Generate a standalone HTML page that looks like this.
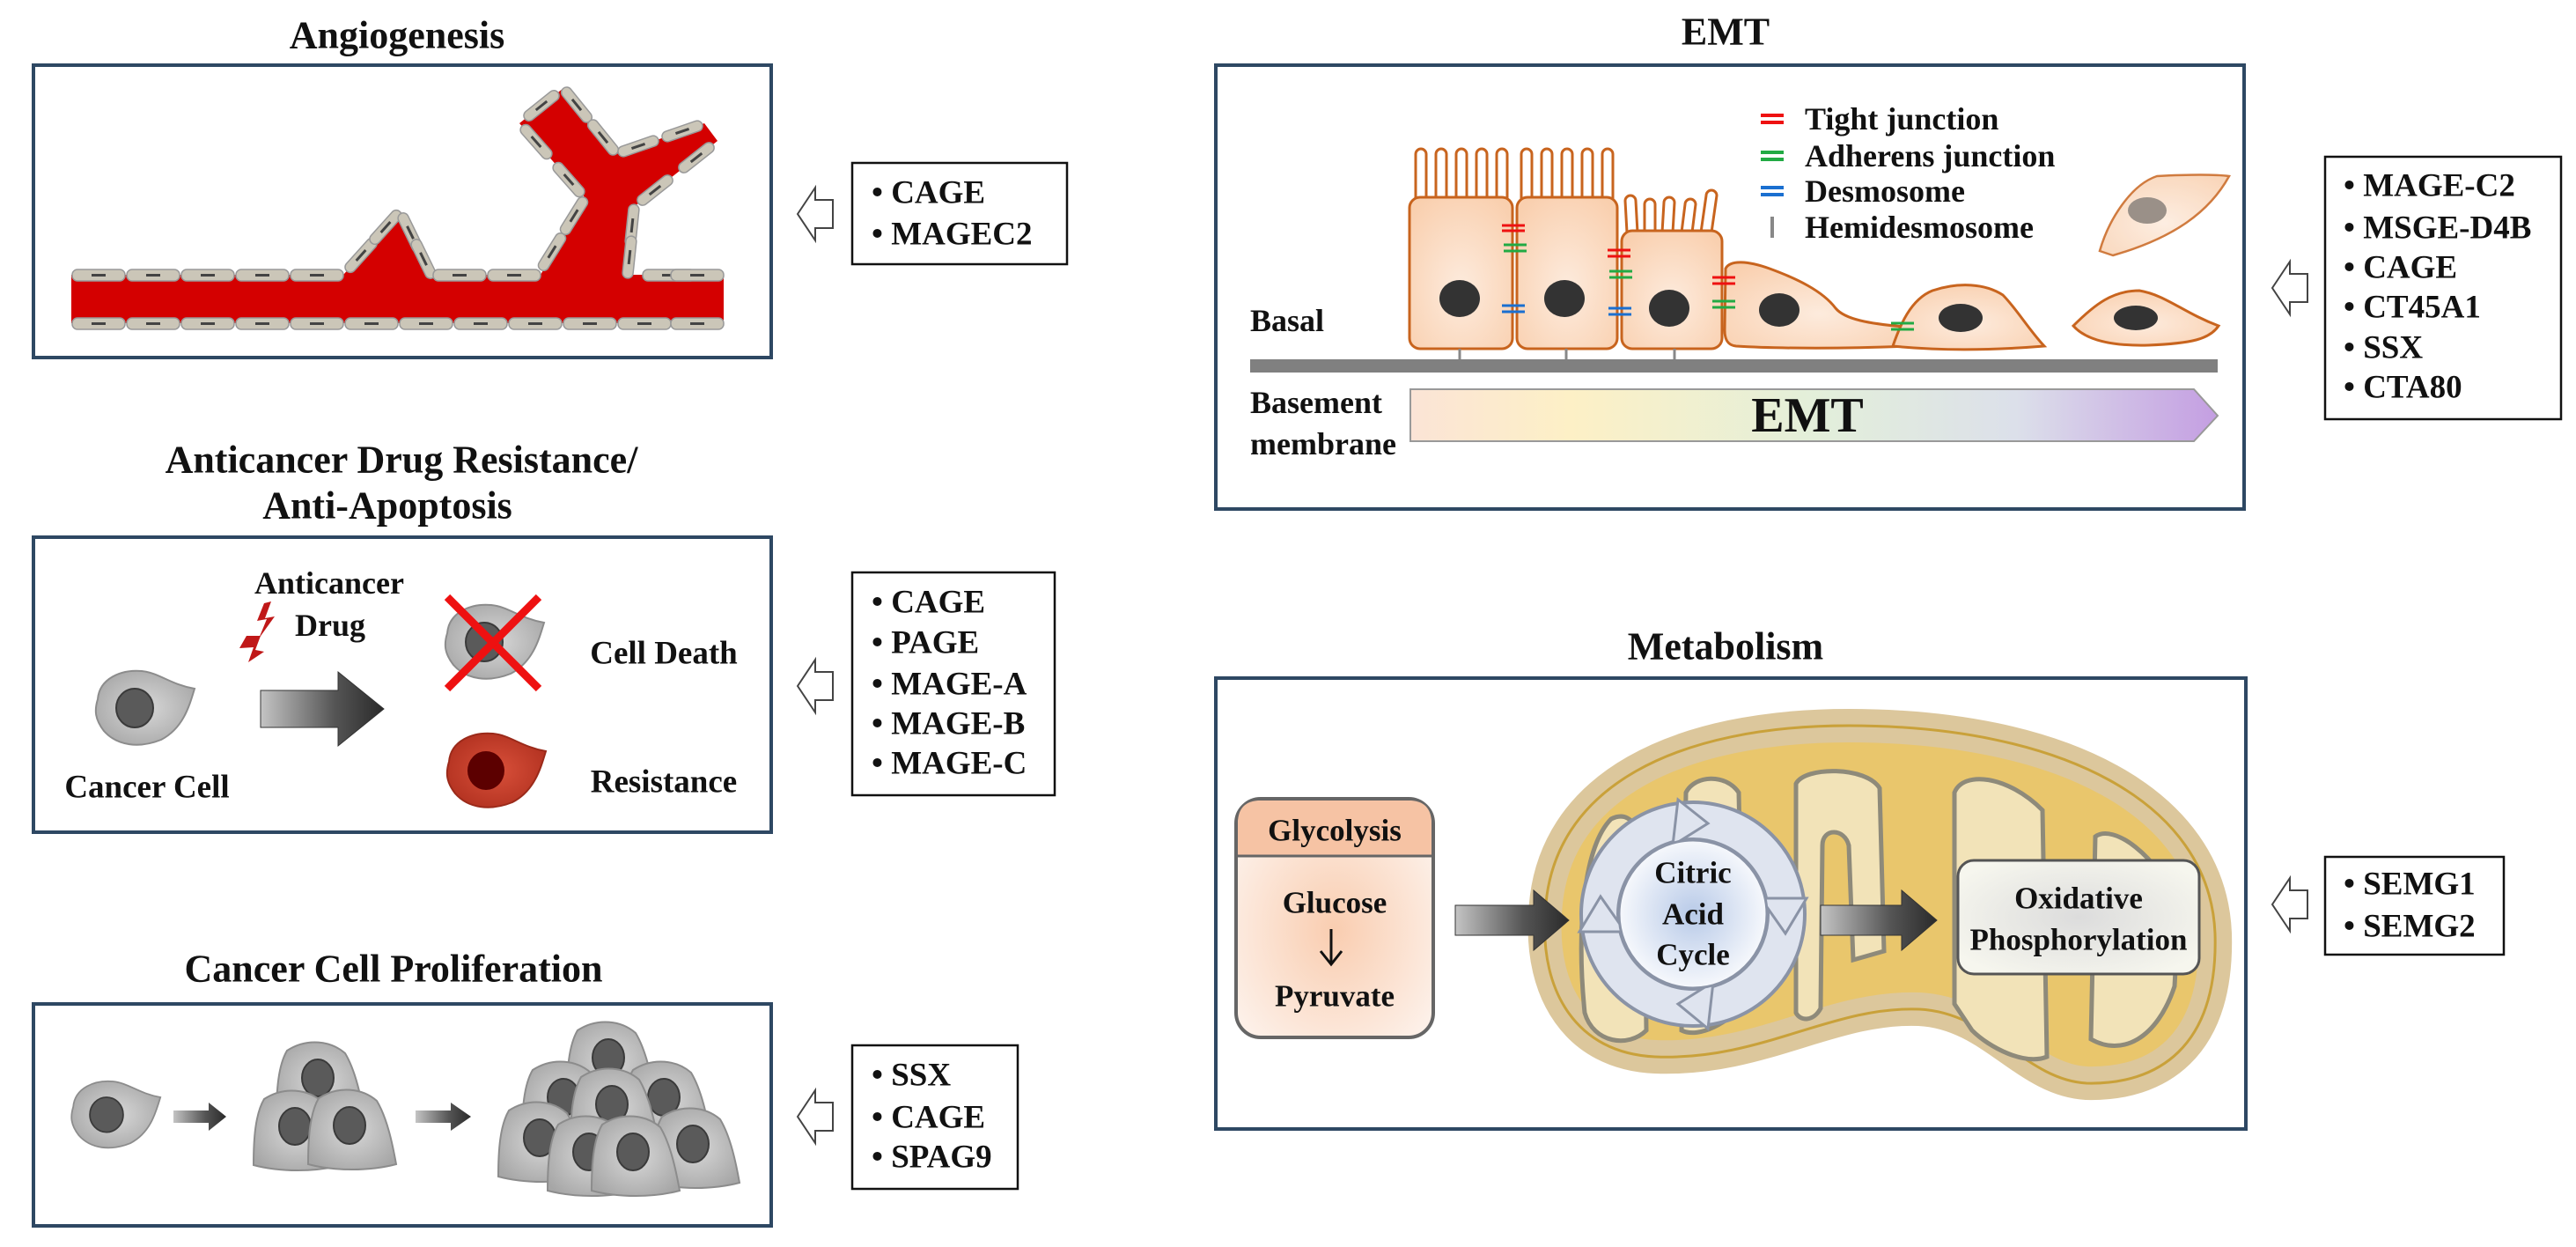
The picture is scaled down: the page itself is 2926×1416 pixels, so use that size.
<!DOCTYPE html>
<html><head><meta charset="utf-8"><style>
html,body{margin:0;padding:0;background:#fff;}
svg{display:block;}
text{font-family:"Liberation Serif",serif;font-weight:bold;fill:#111;}
</style></head><body>
<svg width="2926" height="1416" viewBox="0 0 2926 1416" xmlns="http://www.w3.org/2000/svg">
<defs>
<linearGradient id="ag" x1="0" x2="1" y1="0" y2="0"><stop offset="0" stop-color="#c4c4c4"/><stop offset="0.6" stop-color="#555"/><stop offset="1" stop-color="#2a2a2a"/></linearGradient>
<radialGradient id="gc" cx="0.5" cy="0.5" r="0.6"><stop offset="0" stop-color="#d8d8d8"/><stop offset="1" stop-color="#a6a6a6"/></radialGradient>
<radialGradient id="rc" cx="0.5" cy="0.5" r="0.6"><stop offset="0" stop-color="#d9503a"/><stop offset="1" stop-color="#b0301f"/></radialGradient>
<radialGradient id="ec" cx="0.5" cy="0.6" r="0.7"><stop offset="0" stop-color="#fdebdd"/><stop offset="1" stop-color="#f9cfae"/></radialGradient>
<linearGradient id="emtg" x1="0" x2="1"><stop offset="0" stop-color="#fbe4d6"/><stop offset="0.2" stop-color="#fdf0c6"/><stop offset="0.5" stop-color="#e3efda"/><stop offset="0.75" stop-color="#dce0ea"/><stop offset="1" stop-color="#c49ee2"/></linearGradient>
<radialGradient id="glg" cx="0.5" cy="0.55" r="0.6"><stop offset="0" stop-color="#f9cdb0"/><stop offset="1" stop-color="#fdf0e8"/></radialGradient>
<radialGradient id="cyc" cx="0.5" cy="0.5" r="0.5"><stop offset="0" stop-color="#b8cae8"/><stop offset="1" stop-color="#f6f8fc"/></radialGradient>
<radialGradient id="oxg" cx="0.5" cy="0.5" r="0.6"><stop offset="0" stop-color="#dcdcdc"/><stop offset="1" stop-color="#f6f6ee"/></radialGradient>
<g id="gcell"><path d="M-52,-8 C-50,-32 -25,-42 -2,-40 C18,-38 30,-25 58,-20 C52,0 45,25 20,38 C-5,48 -30,45 -45,28 C-55,15 -56,5 -52,-8Z" fill="url(#gc)" stroke="#8c8c8c" stroke-width="2"/><ellipse cx="-10" cy="2" rx="21" ry="22" fill="#5a5a5a" stroke="#3a3a3a" stroke-width="2"/></g>
<g id="pcell"><path d="M-38,-35 C-15,-50 12,-46 28,-32 C40,-12 46,18 50,40 C20,48 -20,48 -50,40 C-50,10 -48,-18 -38,-35Z" fill="url(#gc)" stroke="#8c8c8c" stroke-width="2"/><ellipse cx="-3" cy="-4" rx="18" ry="21" fill="#5a5a5a" stroke="#3a3a3a" stroke-width="2"/></g>
<g id="hol"><polygon points="0,30 20,0 20,14 40,14 40,46 20,46 20,60" fill="#fff" stroke="#444" stroke-width="2"/></g>
<g id="vc"><rect x="0" y="0" width="60" height="13" rx="6" fill="#cbc6b8" stroke="#999" stroke-width="1.5"/><rect x="22" y="5" width="16" height="3" fill="#444"/></g>
<g id="bc"><rect x="-24" y="-6" width="48" height="12" rx="6" fill="#cbc6b8" stroke="#999" stroke-width="1.5"/><rect x="-8" y="-1.5" width="16" height="3" fill="#444"/></g>
</defs>

<!-- ===== Angiogenesis ===== -->
<text x="451" y="40" font-size="44" text-anchor="middle" dominant-baseline="central">Angiogenesis</text>
<rect x="38" y="74" width="838" height="332" fill="#fff" stroke="#2e4863" stroke-width="4"/>
<rect x="81" y="312" width="741" height="55" fill="#d40000"/>
<path d="M614,312 L665,225 L590,140 L640,100 L700,175 L800,140 L815,160 L720,235 L713,312 Z" fill="#d40000"/>
<path d="M390,312 L455,240 L490,312 Z" fill="#d40000"/>
<use href="#bc" transform="translate(627,286) rotate(-58)"/>
<use href="#bc" transform="translate(652,245) rotate(-58)"/>
<use href="#bc" transform="translate(646,204) rotate(48.6)"/>
<use href="#bc" transform="translate(609,161) rotate(48.6)"/>
<use href="#bc" transform="translate(615,120) rotate(-38.7)"/>
<use href="#bc" transform="translate(655,119) rotate(51)"/>
<use href="#bc" transform="translate(685,156) rotate(51)"/>
<use href="#bc" transform="translate(725,166) rotate(-19)"/>
<use href="#bc" transform="translate(775,149) rotate(-19)"/>
<use href="#bc" transform="translate(791,179) rotate(-38.3)"/>
<use href="#bc" transform="translate(744,216) rotate(-38.3)"/>
<use href="#bc" transform="translate(718,256) rotate(-84)"/>
<use href="#bc" transform="translate(715,292) rotate(-84)"/>
<use href="#bc" transform="translate(410,290) rotate(-48)"/>
<use href="#bc" transform="translate(438,258) rotate(-48)"/>
<use href="#bc" transform="translate(466,264) rotate(64)"/>
<use href="#bc" transform="translate(481,294) rotate(64)"/>
<g>
<use href="#vc" x="82" y="306"/><use href="#vc" x="144" y="306"/><use href="#vc" x="206" y="306"/><use href="#vc" x="268" y="306"/><use href="#vc" x="330" y="306"/><use href="#vc" x="492" y="306"/><use href="#vc" x="554" y="306"/><use href="#vc" x="730" y="306"/><use href="#vc" x="762" y="306"/>
<use href="#vc" x="82" y="361"/><use href="#vc" x="144" y="361"/><use href="#vc" x="206" y="361"/><use href="#vc" x="268" y="361"/><use href="#vc" x="330" y="361"/><use href="#vc" x="392" y="361"/><use href="#vc" x="454" y="361"/><use href="#vc" x="516" y="361"/><use href="#vc" x="578" y="361"/><use href="#vc" x="640" y="361"/><use href="#vc" x="702" y="361"/><use href="#vc" x="762" y="361"/>
</g>
<use href="#hol" x="906" y="213"/>
<rect x="968" y="185" width="244" height="115" fill="#fff" stroke="#111" stroke-width="2.5"/>
<text x="990" y="219" font-size="37" dominant-baseline="central">• CAGE</text>
<text x="990" y="266" font-size="37" dominant-baseline="central">• MAGEC2</text>

<!-- ===== Anticancer ===== -->
<text x="456" y="522" font-size="44" text-anchor="middle" dominant-baseline="central">Anticancer Drug Resistance/</text>
<text x="440" y="574" font-size="44" text-anchor="middle" dominant-baseline="central">Anti-Apoptosis</text>
<rect x="38" y="610" width="838" height="335" fill="#fff" stroke="#2e4863" stroke-width="4"/>
<text x="374" y="662" font-size="36" text-anchor="middle" dominant-baseline="central">Anticancer</text>
<text x="375" y="710" font-size="36" text-anchor="middle" dominant-baseline="central">Drug</text>
<path d="M300,685 L292,705 L303,703 L294,725 L312,700 L301,702 L308,683Z" fill="#c01818"/>
<path d="M280,722 L272,736 L288,735 L282,752 L300,740 L290,738 L296,722Z" fill="#c01818"/>
<use href="#gcell" x="163" y="802"/>
<text x="167" y="894" font-size="37" text-anchor="middle" dominant-baseline="central">Cancer Cell</text>
<polygon points="296,784 384,784 384,763 436,805 384,847 384,826 296,826" fill="url(#ag)" stroke="#333" stroke-width="1"/>
<use href="#gcell" x="560" y="727"/>
<line x1="508" y1="678" x2="612" y2="782" stroke="#ee1111" stroke-width="9"/>
<line x1="612" y1="678" x2="508" y2="782" stroke="#ee1111" stroke-width="9"/>
<text x="754" y="742" font-size="37" text-anchor="middle" dominant-baseline="central">Cell Death</text>
<g transform="translate(562,873)"><path d="M-52,-8 C-50,-32 -25,-42 -2,-40 C18,-38 30,-25 58,-20 C52,0 45,25 20,38 C-5,48 -30,45 -45,28 C-55,15 -56,5 -52,-8Z" fill="url(#rc)" stroke="#9b2a1a" stroke-width="2"/><ellipse cx="-10" cy="2" rx="21" ry="22" fill="#5c0000"/></g>
<text x="754" y="888" font-size="37" text-anchor="middle" dominant-baseline="central">Resistance</text>
<use href="#hol" x="906" y="749"/>
<rect x="968" y="650" width="230" height="253" fill="#fff" stroke="#111" stroke-width="2.5"/>
<text x="990" y="684" font-size="37" dominant-baseline="central">• CAGE</text>
<text x="990" y="730" font-size="37" dominant-baseline="central">• PAGE</text>
<text x="990" y="777" font-size="37" dominant-baseline="central">• MAGE-A</text>
<text x="990" y="822" font-size="37" dominant-baseline="central">• MAGE-B</text>
<text x="990" y="867" font-size="37" dominant-baseline="central">• MAGE-C</text>

<!-- ===== Proliferation ===== -->
<text x="447" y="1100" font-size="44" text-anchor="middle" dominant-baseline="central">Cancer Cell Proliferation</text>
<rect x="38" y="1140" width="838" height="252" fill="#fff" stroke="#2e4863" stroke-width="4"/>
<g transform="translate(130 1264) scale(0.9)"><use href="#gcell"/></g>
<polygon points="197,1261 237,1261 237,1252 257,1268 237,1284 237,1275 197,1275" fill="url(#ag)"/>
<polygon points="472,1261 512,1261 512,1252 535,1268 512,1284 512,1275 472,1275" fill="url(#ag)"/>
<use href="#pcell" x="364" y="1228"/>
<use href="#pcell" x="338" y="1283"/>
<use href="#pcell" x="400" y="1282"/>
<use href="#pcell" x="694" y="1205"/>
<use href="#pcell" x="643" y="1250"/>
<use href="#pcell" x="757" y="1250"/>
<use href="#pcell" x="698" y="1258"/>
<use href="#pcell" x="616" y="1296"/>
<use href="#pcell" x="790" y="1303"/>
<use href="#pcell" x="672" y="1312"/>
<use href="#pcell" x="722" y="1312"/>
<use href="#hol" x="906" y="1238"/>
<rect x="968" y="1187" width="188" height="163" fill="#fff" stroke="#111" stroke-width="2.5"/>
<text x="990" y="1221" font-size="37" dominant-baseline="central">• SSX</text>
<text x="990" y="1269" font-size="37" dominant-baseline="central">• CAGE</text>
<text x="990" y="1314" font-size="37" dominant-baseline="central">• SPAG9</text>

<!-- ===== EMT ===== -->
<text x="1960" y="36" font-size="44" text-anchor="middle" dominant-baseline="central">EMT</text>
<rect x="1381" y="74" width="1168" height="504" fill="#fff" stroke="#2e4863" stroke-width="4"/>
<g fill="none" stroke="#c8641e" stroke-width="3">
<path d="M1608,226 L1608,175 a6,6 0 0 1 12,0 L1620,226 M1631,226 L1631,175 a6,6 0 0 1 12,0 L1643,226 M1654,226 L1654,175 a6,6 0 0 1 12,0 L1666,226 M1677,226 L1677,175 a6,6 0 0 1 12,0 L1689,226 M1700,226 L1700,175 a6,6 0 0 1 12,0 L1712,226"/>
<path d="M1728,226 L1728,175 a6,6 0 0 1 12,0 L1740,226 M1751,226 L1751,175 a6,6 0 0 1 12,0 L1763,226 M1774,226 L1774,175 a6,6 0 0 1 12,0 L1786,226 M1797,226 L1797,175 a6,6 0 0 1 12,0 L1809,226 M1820,226 L1820,175 a6,6 0 0 1 12,0 L1832,226"/>
<path d="M1848,264 L1846,228 a6,6 0 0 1 12,0 L1860,264 M1868,264 L1868,232 a6,6 0 0 1 12,0 L1880,264 M1888,264 L1890,230 a6,6 0 0 1 12,0 L1900,264 M1910,264 L1914,232 a6,6 0 0 1 12,0 L1922,264 M1932,264 L1938,222 a6,6 0 0 1 12,0 L1944,264"/>
</g>
<g fill="url(#ec)" stroke="#c8641e" stroke-width="3">
<rect x="1601" y="224" width="117" height="172" rx="12"/>
<rect x="1723" y="224" width="114" height="172" rx="12"/>
<rect x="1842" y="262" width="114" height="134" rx="12"/>
<path d="M1960,305 C1965,295 1985,296 2010,305 C2040,316 2070,330 2085,350 C2095,362 2120,368 2175,372 L2170,393 C2100,396 2020,396 1972,393 C1962,392 1959,385 1959,375 Z"/>
<path d="M2150,393 C2158,370 2170,340 2195,330 C2225,320 2255,322 2275,335 C2290,350 2305,375 2322,393 C2260,398 2200,398 2150,393Z"/>
<path d="M2355,370 C2380,345 2400,330 2430,330 C2460,335 2480,355 2520,370 C2510,385 2490,390 2440,392 C2400,393 2370,387 2355,370Z"/>
<path d="M2385,285 C2395,250 2420,210 2450,200 C2490,198 2515,198 2532,200 C2510,240 2470,270 2400,290 Z" stroke-width="2.5" opacity="0.85"/>
</g>
<g fill="#333">
<ellipse cx="1658" cy="339" rx="23" ry="21"/><ellipse cx="1777" cy="339" rx="23" ry="21"/><ellipse cx="1896" cy="350" rx="23" ry="21"/><ellipse cx="2021" cy="352" rx="23" ry="19"/><ellipse cx="2227" cy="361" rx="25" ry="16"/><ellipse cx="2426" cy="361" rx="25" ry="14"/>
</g>
<ellipse cx="2439" cy="239" rx="22" ry="15" fill="#9a9088"/>
<g stroke-width="3">
<line x1="1706" y1="256" x2="1732" y2="256" stroke="#ee1111"/><line x1="1706" y1="262" x2="1732" y2="262" stroke="#ee1111"/>
<line x1="1708" y1="278" x2="1734" y2="278" stroke="#22aa44"/><line x1="1708" y1="285" x2="1734" y2="285" stroke="#22aa44"/>
<line x1="1706" y1="347" x2="1732" y2="347" stroke="#1a6fd0"/><line x1="1706" y1="354" x2="1732" y2="354" stroke="#1a6fd0"/>
<line x1="1826" y1="284" x2="1852" y2="284" stroke="#ee1111"/><line x1="1826" y1="291" x2="1852" y2="291" stroke="#ee1111"/>
<line x1="1828" y1="308" x2="1854" y2="308" stroke="#22aa44"/><line x1="1828" y1="315" x2="1854" y2="315" stroke="#22aa44"/>
<line x1="1827" y1="350" x2="1853" y2="350" stroke="#1a6fd0"/><line x1="1827" y1="357" x2="1853" y2="357" stroke="#1a6fd0"/>
<line x1="1945" y1="315" x2="1971" y2="315" stroke="#ee1111"/><line x1="1945" y1="322" x2="1971" y2="322" stroke="#ee1111"/>
<line x1="1945" y1="342" x2="1971" y2="342" stroke="#22aa44"/><line x1="1945" y1="349" x2="1971" y2="349" stroke="#22aa44"/>
<line x1="2148" y1="367" x2="2174" y2="367" stroke="#22aa44"/><line x1="2148" y1="374" x2="2174" y2="374" stroke="#22aa44"/>
</g>
<g stroke="#888" stroke-width="3"><line x1="1658" y1="396" x2="1658" y2="410"/><line x1="1779" y1="396" x2="1779" y2="410"/><line x1="1902" y1="396" x2="1902" y2="410"/></g>
<rect x="1420" y="408" width="1099" height="15" fill="#808080"/>
<g stroke-width="4">
<line x1="2000" y1="131" x2="2026" y2="131" stroke="#ee1111"/><line x1="2000" y1="139" x2="2026" y2="139" stroke="#ee1111"/>
<line x1="2000" y1="173" x2="2026" y2="173" stroke="#22aa44"/><line x1="2000" y1="181" x2="2026" y2="181" stroke="#22aa44"/>
<line x1="2000" y1="213" x2="2026" y2="213" stroke="#1a6fd0"/><line x1="2000" y1="221" x2="2026" y2="221" stroke="#1a6fd0"/>
<line x1="2013" y1="246" x2="2013" y2="270" stroke="#888"/>
</g>
<text x="2050" y="135" font-size="36" dominant-baseline="central">Tight junction</text>
<text x="2050" y="177" font-size="36" dominant-baseline="central">Adherens junction</text>
<text x="2050" y="217" font-size="36" dominant-baseline="central">Desmosome</text>
<text x="2050" y="258" font-size="36" dominant-baseline="central">Hemidesmosome</text>
<text x="1420" y="364" font-size="36" dominant-baseline="central">Basal</text>
<text x="1420" y="457" font-size="36" dominant-baseline="central">Basement</text>
<text x="1420" y="504" font-size="36" dominant-baseline="central">membrane</text>
<polygon points="1602,442 2492,442 2519,472 2492,501 1602,501" fill="url(#emtg)" stroke="#999" stroke-width="2"/>
<text x="2053" y="472" font-size="56" text-anchor="middle" dominant-baseline="central">EMT</text>
<use href="#hol" x="2581" y="297"/>
<rect x="2641" y="178" width="268" height="298" fill="#fff" stroke="#111" stroke-width="2.5"/>
<text x="2662" y="211" font-size="37" dominant-baseline="central">• MAGE-C2</text>
<text x="2662" y="259" font-size="37" dominant-baseline="central">• MSGE-D4B</text>
<text x="2662" y="304" font-size="37" dominant-baseline="central">• CAGE</text>
<text x="2662" y="349" font-size="37" dominant-baseline="central">• CT45A1</text>
<text x="2662" y="395" font-size="37" dominant-baseline="central">• SSX</text>
<text x="2662" y="440" font-size="37" dominant-baseline="central">• CTA80</text>

<!-- ===== Metabolism ===== -->
<text x="1960" y="734" font-size="44" text-anchor="middle" dominant-baseline="central">Metabolism</text>
<rect x="1381" y="770" width="1170" height="512" fill="#fff" stroke="#2e4863" stroke-width="4"/>
<path d="M1755,1040 C1760,890 1910,824 2100,824 C2340,824 2510,910 2516,1060 C2520,1190 2450,1232 2370,1230 C2300,1226 2262,1150 2180,1146 C2080,1142 2000,1205 1880,1200 C1790,1196 1750,1125 1755,1040 Z" fill="#e9c66c" stroke="#dcc79c" stroke-width="38"/>
<path d="M1755,1040 C1760,890 1910,824 2100,824 C2340,824 2510,910 2516,1060 C2520,1190 2450,1232 2370,1230 C2300,1226 2262,1150 2180,1146 C2080,1142 2000,1205 1880,1200 C1790,1196 1750,1125 1755,1040 Z" fill="none" stroke="#c9a13a" stroke-width="3"/>
<g fill="#f2e3b8" stroke="#8e8a7a" stroke-width="5">
<path d="M1800,1150 C1790,1050 1800,960 1830,930 C1860,915 1870,960 1868,1010 L1870,1170 C1850,1190 1810,1185 1800,1150Z"/>
<path d="M1910,1170 L1915,900 C1925,880 1960,878 1975,900 L1980,1140 C1965,1160 1930,1180 1910,1170Z"/>
<path d="M2040,1150 L2040,890 C2050,870 2120,870 2135,895 L2140,1080 L2105,1090 L2100,960 C2095,940 2070,940 2070,960 L2068,1145 C2060,1160 2045,1160 2040,1150Z"/>
<path d="M2220,1140 L2220,900 C2230,875 2280,880 2320,920 L2325,1200 C2300,1210 2260,1190 2240,1170 Z"/>
<path d="M2375,1180 L2380,950 C2400,935 2450,970 2475,1030 L2470,1120 C2450,1180 2410,1200 2375,1180Z"/>
</g>
<rect x="1404" y="907" width="224" height="271" rx="28" fill="url(#glg)" stroke="#666" stroke-width="4"/>
<path d="M1406,972 L1406,935 Q1406,909 1432,909 L1600,909 Q1626,909 1626,935 L1626,972 Z" fill="#f6c3a4"/>
<line x1="1406" y1="972" x2="1626" y2="972" stroke="#666" stroke-width="3"/>
<text x="1516" y="943" font-size="35" text-anchor="middle" dominant-baseline="central">Glycolysis</text>
<text x="1516" y="1025" font-size="35" text-anchor="middle" dominant-baseline="central">Glucose</text>
<line x1="1512" y1="1055" x2="1512" y2="1093" stroke="#111" stroke-width="3"/>
<polyline points="1500,1080 1512,1095 1524,1080" fill="none" stroke="#111" stroke-width="3"/>
<text x="1516" y="1131" font-size="35" text-anchor="middle" dominant-baseline="central">Pyruvate</text>
<polygon points="1653,1028 1742,1028 1742,1011 1782,1045 1742,1079 1742,1062 1653,1062" fill="url(#ag)" stroke="#333"/>
<polygon points="2068,1028 2160,1028 2160,1011 2200,1045 2160,1079 2160,1062 2068,1062" fill="url(#ag)" stroke="#333"/>
<circle cx="1923" cy="1038" r="106" fill="none" stroke="#8a93a6" stroke-width="46"/>
<circle cx="1923" cy="1038" r="106" fill="none" stroke="#dfe4ef" stroke-width="38"/>
<g fill="#dfe4ef" stroke="#8a93a6" stroke-width="3">
<polygon points="1906,908 1940,935 1900,960"/>
<polygon points="2052,1020 2028,1060 2000,1020"/>
<polygon points="1940,1168 1906,1140 1946,1115"/>
<polygon points="1794,1058 1818,1018 1846,1058"/>
</g>
<circle cx="1923" cy="1038" r="84" fill="url(#cyc)" stroke="#8a93a6" stroke-width="3"/>
<text x="1923" y="991" font-size="35" text-anchor="middle" dominant-baseline="central">Citric</text>
<text x="1923" y="1038" font-size="35" text-anchor="middle" dominant-baseline="central">Acid</text>
<text x="1923" y="1084" font-size="35" text-anchor="middle" dominant-baseline="central">Cycle</text>
<rect x="2224" y="977" width="274" height="129" rx="18" fill="url(#oxg)" stroke="#555" stroke-width="3"/>
<text x="2361" y="1020" font-size="35" text-anchor="middle" dominant-baseline="central">Oxidative</text>
<text x="2361" y="1067" font-size="35" text-anchor="middle" dominant-baseline="central">Phosphorylation</text>
<use href="#hol" x="2581" y="997"/>
<rect x="2641" y="973" width="203" height="111" fill="#fff" stroke="#111" stroke-width="2.5"/>
<text x="2662" y="1004" font-size="37" dominant-baseline="central">• SEMG1</text>
<text x="2662" y="1052" font-size="37" dominant-baseline="central">• SEMG2</text>
</svg>
</body></html>
